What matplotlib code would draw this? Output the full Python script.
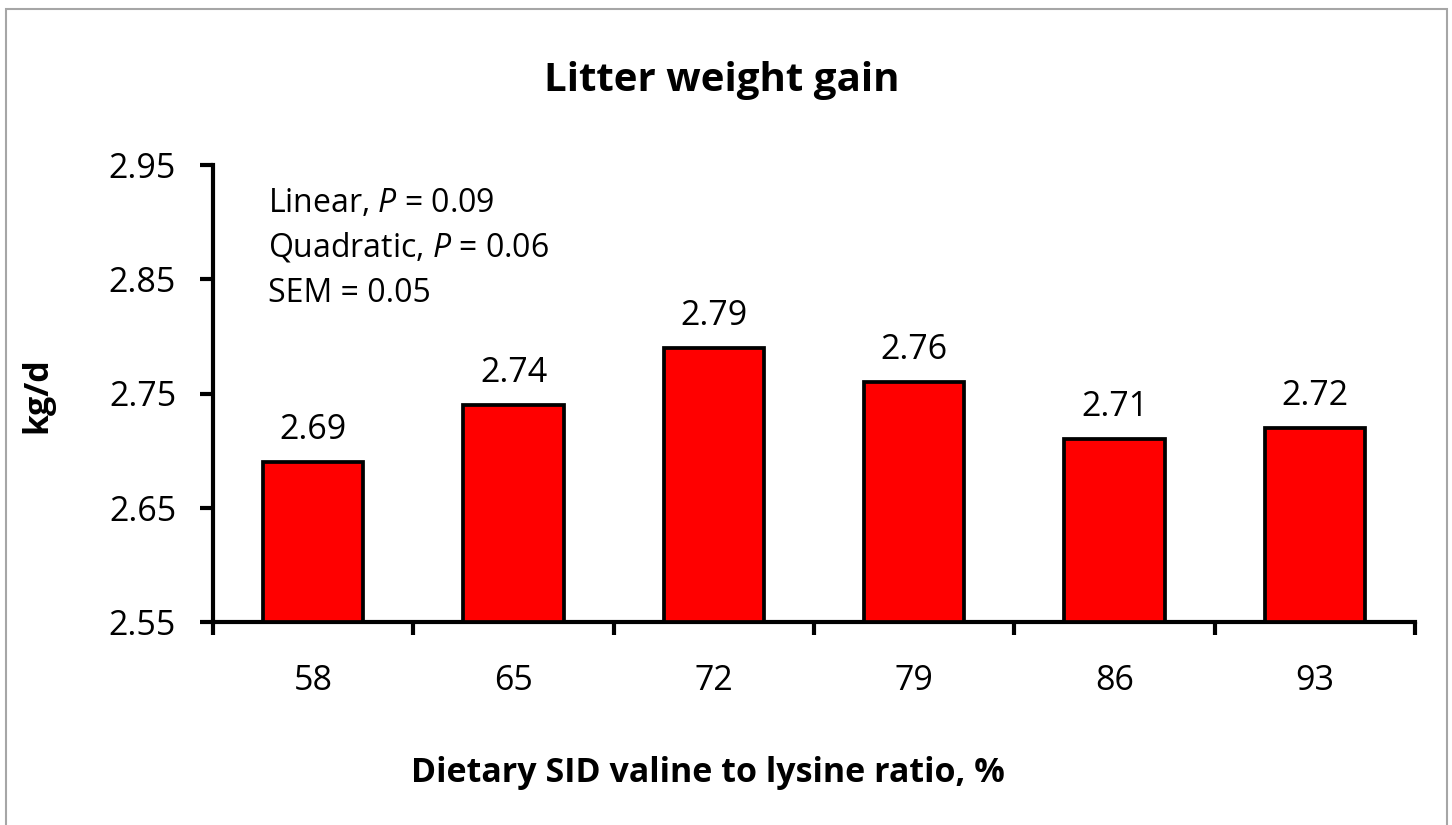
import numpy as np
import matplotlib
matplotlib.use("Agg")
import matplotlib.pyplot as plt
from matplotlib.patches import Rectangle

categories = ["58", "65", "72", "79", "86", "93"]
values = [2.69, 2.74, 2.79, 2.76, 2.71, 2.72]
y_ticks = [2.55, 2.65, 2.75, 2.85, 2.95]
stats_lines = [r"Linear, $\it{P}$ = 0.09", r"Quadratic, $\it{P}$ = 0.06", "SEM = 0.05"]

plt.rcParams["font.family"] = ["Open Sans", "DejaVu Sans"]
plt.rcParams["mathtext.fontset"] = "custom"
plt.rcParams["mathtext.it"] = "Open Sans:italic"
plt.rcParams["mathtext.rm"] = "Open Sans"

W, H = 1452, 825
fig = plt.figure(figsize=(W / 100, H / 100), dpi=100)
ax = fig.add_axes([213 / W, 1 - 622 / H, (1415 - 213) / W, (622 - 165) / H])

# light gray frame around the whole chart
fig.patches.append(Rectangle((6 / W, -0.01), (1447 - 6) / W, (H - 9) / H + 0.01,
                             transform=fig.transFigure, fill=False,
                             edgecolor="#a6a6a6", linewidth=1.5))

x = np.arange(len(categories))
ax.bar(x, [v - 2.55 for v in values], bottom=2.55, width=0.5,
       color="#ff0000", edgecolor="black", linewidth=2.7, zorder=3)

for xi, v in zip(x, values):
    ax.text(xi, v + 0.028, f"{v:.2f}", ha="center", va="center", fontsize=24.5)

ax.set_xlim(-0.5, len(categories) - 0.5)
ax.set_ylim(2.55, 2.95)
ax.set_yticks(y_ticks)
ax.set_yticklabels([f"{t:.2f}" for t in y_ticks], fontsize=24.5)

# ticks at category boundaries, labels centred under bars
ax.set_xticks(np.arange(len(categories) + 1) - 0.5)
ax.set_xticklabels([])
ax.set_xticks(x, minor=True)
ax.set_xticklabels(categories, minor=True, fontsize=24.5)
ax.tick_params(axis="x", which="major", direction="out", length=9.5, width=3)
ax.tick_params(axis="x", which="minor", length=0, pad=30)
ax.tick_params(axis="y", direction="out", length=9.5, width=3, pad=17)

for s in ["top", "right"]:
    ax.spines[s].set_visible(False)
for s in ["left", "bottom"]:
    ax.spines[s].set_linewidth(3)

for i, line in enumerate(stats_lines):
    fig.text(268 / W, 1 - (203 + 45 * i) / H, line, fontsize=23, va="center")

fig.text(722 / W, 1 - 80 / H, "Litter weight gain", ha="center", va="center",
         fontsize=29, fontweight="bold")
fig.text(37 / W, 1 - 395 / H, "kg/d", ha="center", va="center", rotation=90,
         fontsize=24.5, fontweight="bold")
fig.text(708 / W, 1 - 773 / H, "Dietary SID valine to lysine ratio, %", ha="center",
         va="center", fontsize=24.5, fontweight="bold")

fig.savefig("out.png", dpi=100)
